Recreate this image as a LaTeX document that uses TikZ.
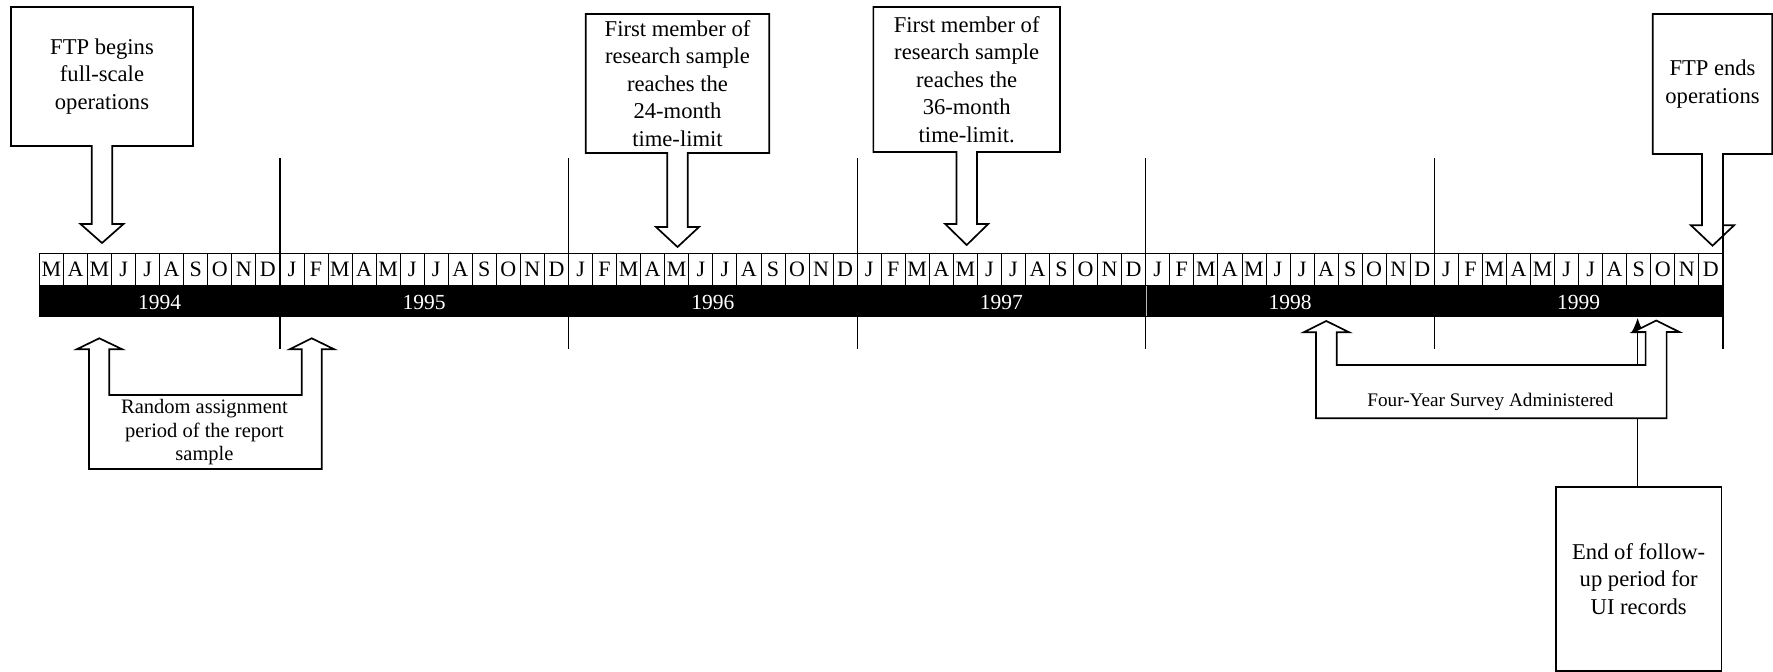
\documentclass[tikz,border=0pt]{standalone}
\usepackage{fontspec}
\setmainfont{Liberation Serif}
\usetikzlibrary{calc,arrows.meta}
\begin{document}
\begin{tikzpicture}[x=1pt,y=-1pt,
  boxtext/.style={align=center,inner sep=0pt,outer sep=0pt,font=\fontsize{22.6}{27.5}\selectfont},
  callout/.style={draw=black,line width=1.7pt,line join=miter},
  month/.style={draw=black,line width=0.8pt,fill=white,minimum width=24.05pt,minimum height=32pt,inner sep=0pt,outer sep=0pt,text height=14.6pt,text depth=0pt,font=\fontsize{22}{26}\selectfont},
  yearlbl/.style={text=white,anchor=base,inner sep=0pt,font=\fontsize{21.5}{26}\selectfont},
  yearline/.style={line width=1.2pt},
  uarrow/.style={draw=black,line width=1.7pt,fill=white,line join=miter},
  smalltext/.style={align=center,inner sep=0pt,font=\fontsize{20.5}{23.7}\selectfont},
  fytext/.style={anchor=base,inner sep=0pt,font=\fontsize{19.2}{23}\selectfont},
]
\useasboundingbox (0,0) rectangle (1773,672);

% month cells
\foreach \l [count=\i from 0] in {M,A,M,J,J,A,S,O,N,D,
  J,F,M,A,M,J,J,A,S,O,N,D, J,F,M,A,M,J,J,A,S,O,N,D,
  J,F,M,A,M,J,J,A,S,O,N,D, J,F,M,A,M,J,J,A,S,O,N,D,
  J,F,M,A,M,J,J,A,S,O,N,D}
  \node[month] (m\i) at ({39.4+(\i+0.5)*24.05},269) {\l};

% black year bar
\fill[black] (39.4,285) rectangle (1722.9,317);
\node[yearlbl] (y1994) at (159.6,309.3) {1994};
\node[yearlbl] (y1995) at (424.2,309.3) {1995};
\node[yearlbl] (y1996) at (712.8,309.3) {1996};
\node[yearlbl] (y1997) at (1001.4,309.3) {1997};
\node[yearlbl] (y1998) at (1290,309.3) {1998};
\node[yearlbl] (y1999) at (1578.6,309.3) {1999};

% callout boxes
\node[boxtext,minimum width=182pt,minimum height=139pt] (b1) at (102,76.5) {FTP begins\\full-scale\\operations};
\coordinate (t1) at (102,243);
\draw[callout] (b1.south west) -- (b1.north west) -- (b1.north east) -- (b1.south east)
  -- ($(b1.south)+(10.3,0)$) -- ($(t1)+(10.3,-19)$) -- ($(t1)+(21.5,-19)$) -- (t1)
  -- ($(t1)+(-21.5,-19)$) -- ($(t1)+(-10.3,-19)$) -- ($(b1.south)+(-10.3,0)$) -- cycle;

\node[boxtext,minimum width=183.6pt,minimum height=139pt] (b2) at (677.5,83.5) {First member of\\research sample\\reaches the\\24-month\\time-limit};
\coordinate (t2) at (677.5,247);
\draw[callout] (b2.south west) -- (b2.north west) -- (b2.north east) -- (b2.south east)
  -- ($(b2.south)+(10.3,0)$) -- ($(t2)+(10.3,-20)$) -- ($(t2)+(21.5,-20)$) -- (t2)
  -- ($(t2)+(-21.5,-20)$) -- ($(t2)+(-10.3,-20)$) -- ($(b2.south)+(-10.3,0)$) -- cycle;

\node[boxtext,minimum width=186.7pt,minimum height=145pt] (b3) at (966.7,79.5) {First member of\\research sample\\reaches the\\36-month\\time-limit.};
\coordinate (t3) at (966.7,245);
\draw[callout] (b3.south west) -- (b3.north west) -- (b3.north east) -- (b3.south east)
  -- ($(b3.south)+(10.3,0)$) -- ($(t3)+(10.3,-21)$) -- ($(t3)+(21.5,-21)$) -- (t3)
  -- ($(t3)+(-21.5,-21)$) -- ($(t3)+(-10.3,-21)$) -- ($(b3.south)+(-10.3,0)$) -- cycle;

\node[boxtext,minimum width=119.6pt,minimum height=140pt] (b4) at (1712.5,84) {FTP ends\\operations};
\coordinate (t4) at (1712.5,245.7);
\draw[callout] (b4.south west) -- (b4.north west) -- (b4.north east) -- (b4.south east)
  -- ($(b4.south)+(10.5,0)$) -- ($(t4)+(10.5,-20.5)$) -- ($(t4)+(21.7,-20.5)$) -- (t4)
  -- ($(t4)+(-21.7,-20.5)$) -- ($(t4)+(-10.5,-20.5)$) -- ($(b4.south)+(-10.5,0)$) -- cycle;

% year divider lines
\foreach \x in {279.9,568.5,857.1,1145.7,1434.3}
  \draw[yearline] (\x,158) -- (\x,349);
\draw[yearline] (1722.9,157) -- (1722.9,349);
\draw[gray!55,line width=0.8pt] (1146.3,285.8) -- (1146.3,316.2);

% random assignment U-arrow
\draw[uarrow] (99.3,338.3) -- (122.3,349.3) -- (109.3,349.3) -- (109.3,395) -- (301.7,395)
  -- (301.7,349.3) -- (289.7,349.3) -- (311.7,338.3) -- (334.3,349.3) -- (321.7,349.3)
  -- (321.7,469) -- (89,469) -- (89,349.3) -- (76.7,349.3) -- cycle;
\node[smalltext] (ra) at (204.5,432.2) {Random assignment\\period of the report\\sample};

% end of follow-up box with arrow
\node[boxtext,draw,line width=1.7pt,minimum width=165.3pt,minimum height=184pt] (b5) at (1638.7,578.7) {End of follow-\\up period for\\UI records};
\coordinate (a5) at (1637.6,318);
\draw[line width=1pt,-{Latex[length=15pt,width=13pt]}] (a5 |- b5.north) -- (a5);

% four-year survey U-arrow
\draw[uarrow] (1326.3,321) -- (1349.2,332.3) -- (1336.8,332.3) -- (1336.8,365) -- (1645.6,365)
  -- (1645.6,332) -- (1633.3,332) -- (1656.2,320.5) -- (1679.4,332) -- (1666.6,332)
  -- (1666.6,418.3) -- (1316,418.3) -- (1316,332.3) -- (1303.6,332.3) -- cycle;
\node[fytext] (fy) at (1490.5,406.7) {Four-Year Survey Administered};
\end{tikzpicture}
\end{document}
